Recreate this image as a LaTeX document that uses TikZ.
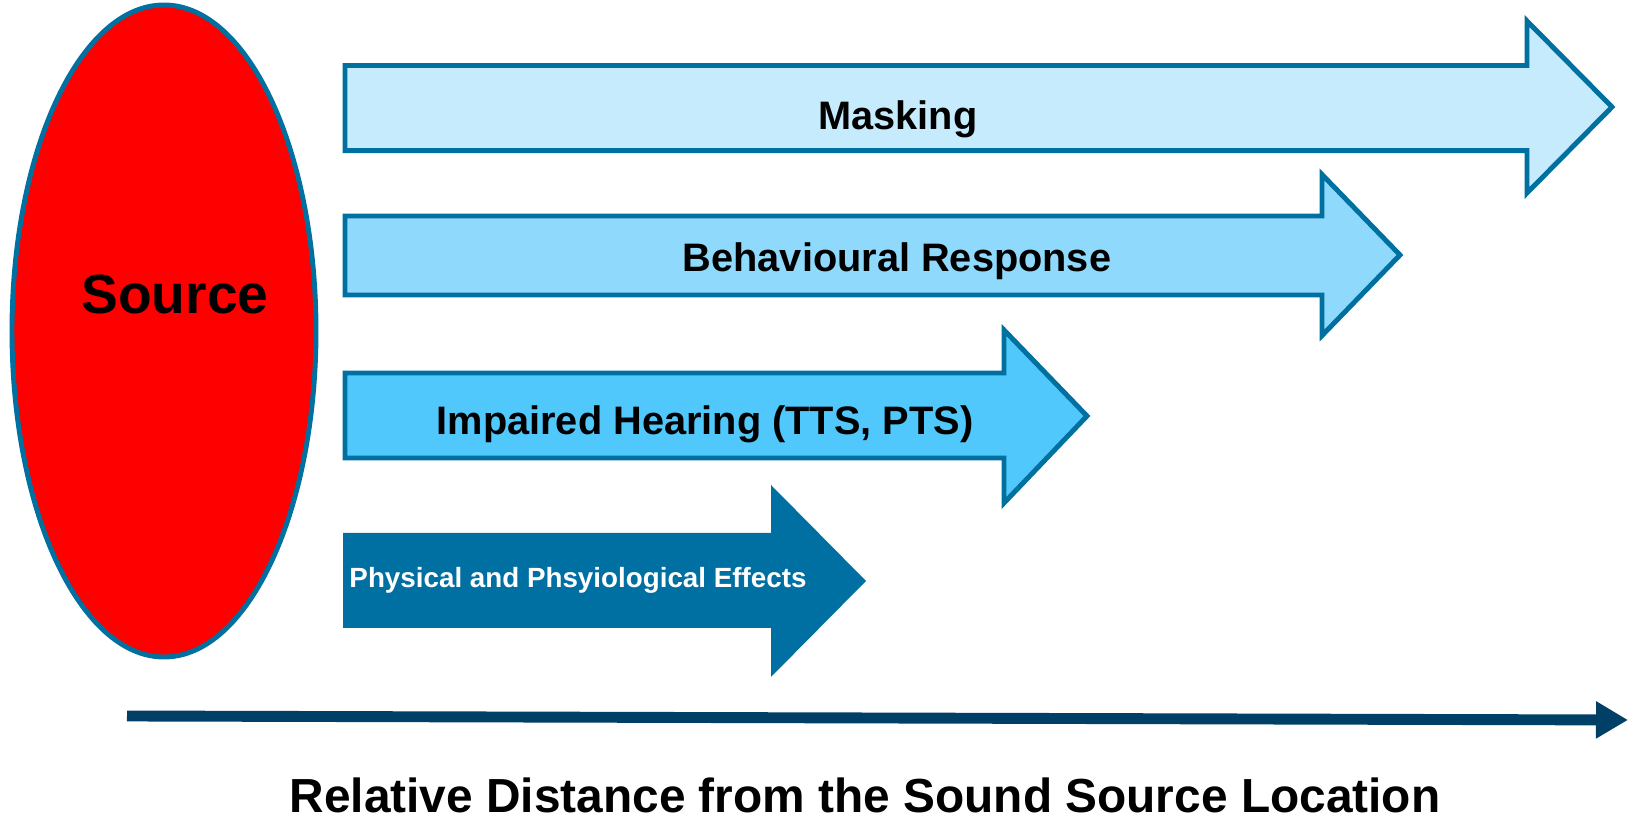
\documentclass[tikz,border=0pt]{standalone}
\usepackage{fontspec}
\setmainfont{Liberation Sans}
\usepackage{xcolor}
\usetikzlibrary{arrows.meta}

\definecolor{edgeblue}{HTML}{0070A0}
\definecolor{maskfill}{HTML}{C6EBFD}
\definecolor{behavfill}{HTML}{8ED9FC}
\definecolor{hearfill}{HTML}{50C8FC}
\definecolor{physfill}{HTML}{0070A3}
\definecolor{axisnavy}{HTML}{003F66}

\tikzset{
  blockarrow/.style={draw=edgeblue, line width=1.4pt, line join=miter},
  arrowtext/.style={font=\bfseries\fontsize{11.3}{13}\selectfont, inner sep=0pt, anchor=base}
}

\begin{document}
\begin{tikzpicture}[x=0.01cm, y=-0.01cm]
    \useasboundingbox (0,0) rectangle (1629,819);
    % source
    \draw[fill=red, draw=edgeblue, line width=1.4pt] (164,331) ellipse (152 and 326);
    \node[inner sep=0pt, anchor=base, font=\bfseries\fontsize{15.7}{18}\selectfont] (source) at (175,314) {Source};
    % the four effect arrows
    \draw[blockarrow, fill=maskfill] 
    (345,65.5) -- (1527,65.5) -- (1527,21) -- (1612,107) -- (1527,193) -- (1527,150.6) -- (345,150.6) -- cycle;
    \draw[blockarrow, fill=behavfill] 
    (345,216) -- (1322,216) -- (1322,174.5) -- (1400,255) -- (1322,335.6) -- (1322,295) -- (345,295) -- cycle;
    \draw[blockarrow, fill=hearfill] 
    (345,373) -- (1004,373) -- (1004,330) -- (1087,416) -- (1004,503) -- (1004,458) -- (345,458) -- cycle;
    \draw[fill=physfill, draw=none] 
    (343,533) -- (771,533) -- (771,485) -- (866,581) -- (771,677) -- (771,628) -- (343,628) -- cycle;
    \node[arrowtext] (masking) at (898,130) {Masking};
    \node[arrowtext] (behaviour) at (897,272) {Behavioural Response};
    \node[arrowtext] (hearing) at (705,435) {Impaired Hearing (TTS, PTS)};
    \node[arrowtext, text=white, font=\bfseries\fontsize{7.9}{9}\selectfont] (physical) at (578,588) {Physical and Phsyiological Effects};
    % distance axis
    \coordinate (axisstart) at (127,716);
    \coordinate (axisend) at (1628,720);
    \draw[axisnavy, line width=3.1pt, -{Triangle[length=9.1pt, width=10pt]}] (axisstart) -- (axisend);
    \node[inner sep=0pt, anchor=base, font=\bfseries\fontsize{13.6}{16}\selectfont] (distance) at (865,813) {Relative Distance from the Sound Source Location};
\end{tikzpicture}
\end{document}
